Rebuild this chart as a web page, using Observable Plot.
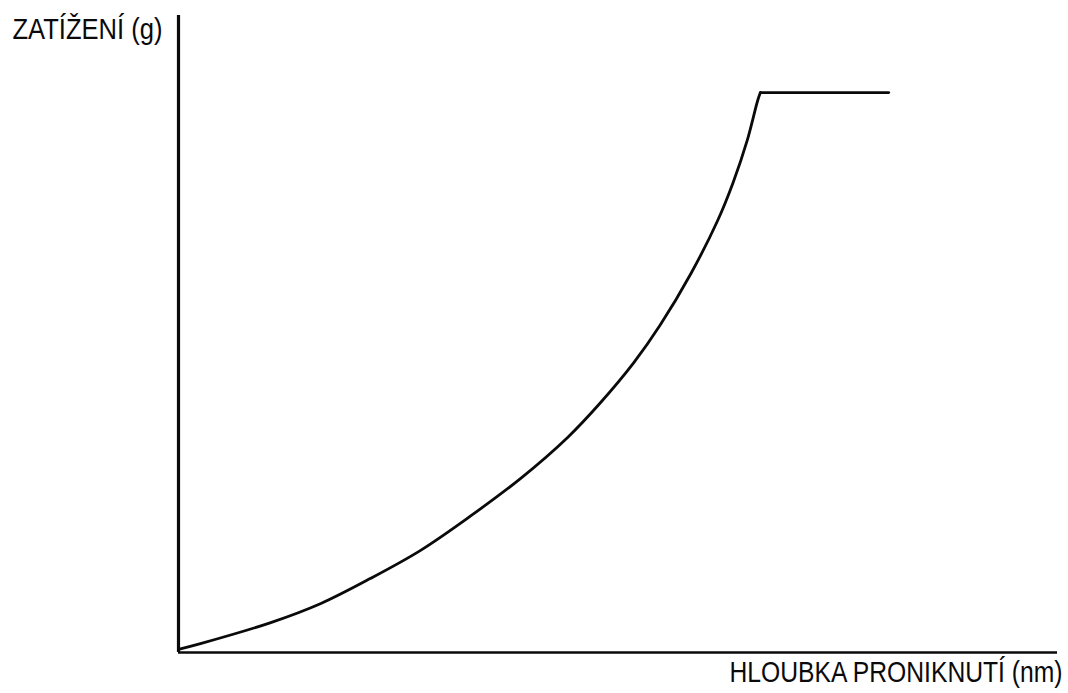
<!DOCTYPE html>
<html>
<head>
<meta charset="utf-8">
<script src="https://cdn.jsdelivr.net/npm/d3@7"></script>
<script src="https://cdn.jsdelivr.net/npm/@observablehq/plot@0.6"></script>
<style>
  html, body { margin: 0; padding: 0; background: #fff; }
  #chart svg { display: block; }
</style>
</head>
<body>
<div id="chart"></div>
<script>
// Load–penetration curve of an indentation test (loading branch, then hold at peak load)
const depth = [0, 2.5, 10.5, 16.2, 21.8, 27.5, 33.2, 38.9, 44.3, 48.0, 51.8, 54.8, 58.3, 61.3, 63.1, 64.7, 65.9, 66.2];
const load  = [0.5, 1.4, 4.7, 7.7, 11.6, 16.0, 21.4, 27.3, 33.8, 39.2, 45.5, 51.4, 59.5, 67.7, 73.8, 80.4, 86.7, 87.9];

// Hold at maximum load
const holdDepth = [66.2, 80.8];
const holdLoad  = [87.9, 87.9];

const yLabel = "ZATÍŽENÍ (g)";
const xLabel = "HLOUBKA PRONIKNUTÍ (nm)";

const loading = depth.map((d, i) => ({depth: d, load: load[i]}));
const hold = holdDepth.map((d, i) => ({depth: d, load: holdLoad[i]}));

const font = "'Liberation Sans Narrow', 'Arial Narrow', 'Liberation Sans', Arial, sans-serif";
const ink = "#0a0a0a";

const chart = Plot.plot({
  width: 1068,
  height: 693,
  marginLeft: 178,
  marginRight: 11,
  marginTop: 15,
  marginBottom: 41,
  style: {background: "#fff", fontFamily: font},
  x: {domain: [0, 100], axis: null},
  y: {domain: [0, 100], axis: null},
  marks: [
    Plot.ruleY([0], {stroke: ink, strokeWidth: 2.6}),
    Plot.ruleX([0], {stroke: ink, strokeWidth: 3.2}),
    Plot.line(loading, {x: "depth", y: "load", curve: "catmull-rom", stroke: ink, strokeWidth: 2.8}),
    Plot.line(hold, {x: "depth", y: "load", stroke: ink, strokeWidth: 2.8}),
    Plot.text([yLabel], {
      frameAnchor: "top-left", textAnchor: "start", lineAnchor: "bottom",
      dx: -166, dy: 23, fontSize: 29.5, fill: ink, className: "lbl-y"
    }),
    Plot.text([xLabel], {
      frameAnchor: "bottom-right", textAnchor: "end", lineAnchor: "bottom",
      dx: 5, dy: 29, fontSize: 29, fill: ink, className: "lbl-x"
    })
  ]
});

// The axis titles are set in a narrow face; compress the glyphs to that width
d3.select(chart).selectAll(".lbl-y text").attr("textLength", 150).attr("lengthAdjust", "spacingAndGlyphs");
d3.select(chart).selectAll(".lbl-x text").attr("textLength", 333).attr("lengthAdjust", "spacingAndGlyphs");

document.getElementById("chart").appendChild(chart);
</script>
</body>
</html>
